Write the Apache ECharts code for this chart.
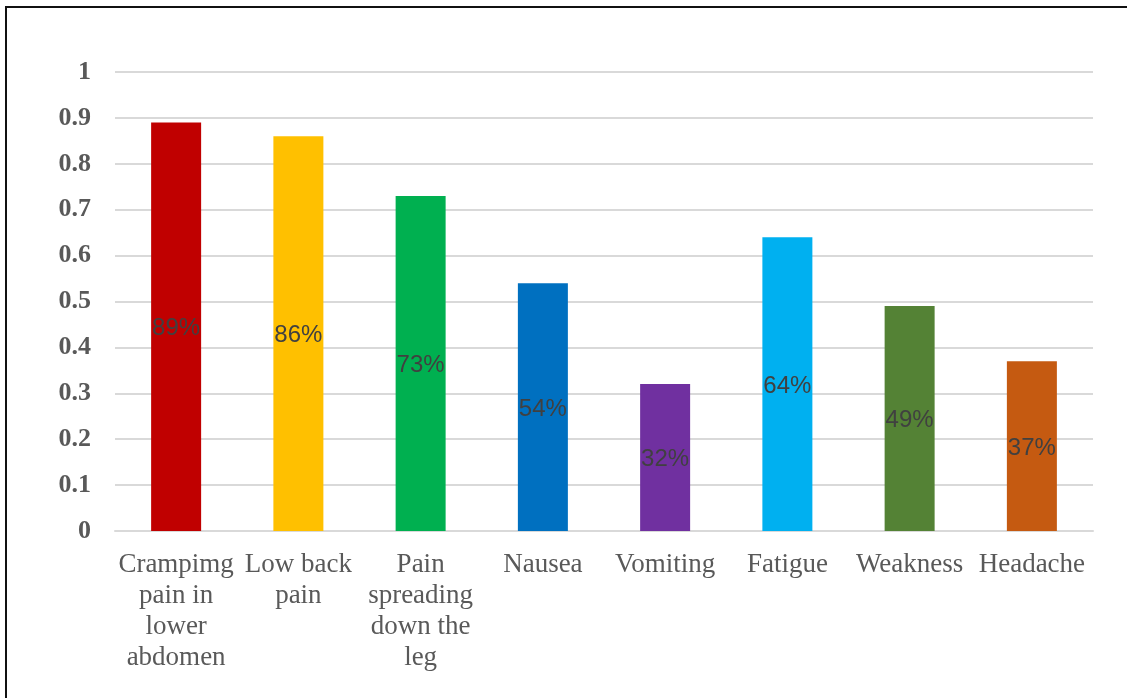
<!DOCTYPE html>
<html>
<head>
<meta charset="utf-8">
<script src="https://cdn.jsdelivr.net/npm/echarts@6/dist/echarts.min.js"></script>
<style>
  html, body { margin: 0; padding: 0; background: #fff; overflow: hidden; }
  #frame { position: absolute; left: 5px; top: 6px; width: 1200px; height: 800px;
           border-left: 2px solid #111; border-top: 2px solid #111; }
  #main { position: absolute; left: 0; top: 0; width: 1127px; height: 698px; }
</style>
</head>
<body>
<div id="frame"></div>
<div id="main"></div>
<script>
// symptoms and share of patients
var categories = [
    'Crampimg\npain in\nlower\nabdomen',
    'Low back\npain',
    'Pain\nspreading\ndown the\nleg',
    'Nausea',
    'Vomiting',
    'Fatigue',
    'Weakness',
    'Headache'
];
var values = [0.89, 0.86, 0.73, 0.54, 0.32, 0.64, 0.49, 0.37];
var barColors = ['#C00000', '#FFC000', '#00B050', '#0070C0', '#7030A0', '#00B0F0', '#548235', '#C55A11'];

var chart = echarts.init(document.getElementById('main'));

var data = values.map(function (v, i) {
    return { value: v, itemStyle: { color: barColors[i] } };
});

chart.setOption({
    animation: false,
    grid: { left: 115, right: 34, top: 72, bottom: 167 },
    xAxis: {
        type: 'category',
        data: categories,
        axisLine: { lineStyle: { color: '#d9d9d9', width: 2 } },
        axisTick: { show: false },
        axisLabel: {
            interval: 0,
            margin: 18,
            color: '#595959',
            fontFamily: 'Liberation Serif',
            fontSize: 27,
            lineHeight: 31
        }
    },
    yAxis: {
        type: 'value',
        min: 0,
        max: 1,
        interval: 0.1,
        axisLine: { show: false },
        axisTick: { show: false },
        splitLine: { lineStyle: { color: '#d9d9d9', width: 2 } },
        axisLabel: {
            margin: 24,
            color: '#595959',
            fontFamily: 'Liberation Serif',
            fontWeight: 'bold',
            fontSize: 26
        }
    },
    series: [{
        type: 'bar',
        data: data,
        barWidth: 50,
        label: {
            show: true,
            position: 'inside',
            offset: [0, 2],
            color: '#404040',
            fontFamily: 'Liberation Sans',
            fontSize: 24,
            formatter: function (p) { return Math.round(p.value * 100) + '%'; }
        }
    }]
});
</script>
</body>
</html>
